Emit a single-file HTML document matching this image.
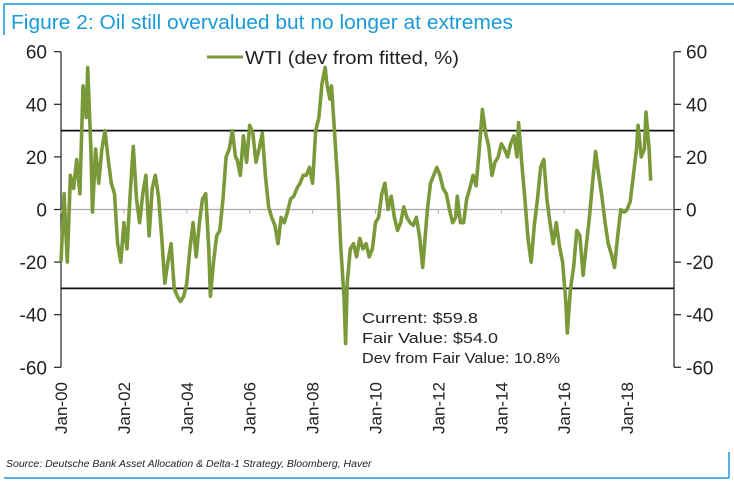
<!DOCTYPE html>
<html><head><meta charset="utf-8"><style>
body{margin:0;background:#fff;}
svg{display:block;font-family:"Liberation Sans",sans-serif;}
</style></head><body>
<svg width="734" height="485" viewBox="0 0 734 485">
<g id="frame">
<line x1="4" y1="4" x2="734" y2="4" stroke="#1a9ad6" stroke-width="1.5"/>
<line x1="4" y1="4" x2="4" y2="35" stroke="#1a9ad6" stroke-width="1.5"/>
<line x1="4" y1="478" x2="729" y2="478" stroke="#1a9ad6" stroke-width="1.5"/>
<line x1="729" y1="452" x2="729" y2="478" stroke="#1a9ad6" stroke-width="1.5"/>
</g>
<text x="11" y="29" font-size="20.5" fill="#1a9ad6" textLength="502" lengthAdjust="spacingAndGlyphs">Figure 2: Oil still overvalued but no longer at extremes</text>
<text x="6" y="467" font-size="10.5" font-style="italic" fill="#222">Source: Deutsche Bank Asset Allocation &amp; Delta-1 Strategy, Bloomberg, Haver</text>
<g id="axes"></g>
<g id="series"></g>
<g>
<line x1="207" y1="57" x2="243" y2="57" stroke="#7a9a3a" stroke-width="3"/>
<text x="245" y="64" font-size="18" fill="#222" textLength="214" lengthAdjust="spacingAndGlyphs">WTI (dev from fitted, %)</text>
</g>
<g font-size="15" fill="#222">
<text x="362" y="323" textLength="116" lengthAdjust="spacingAndGlyphs">Current: $59.8</text>
<text x="362" y="343" textLength="136" lengthAdjust="spacingAndGlyphs">Fair Value: $54.0</text>
<text x="362" y="363" textLength="198" lengthAdjust="spacingAndGlyphs">Dev from Fair Value: 10.8%</text>
</g>
</svg>
<script>
const dates=[2000.0,2000.1,2000.2,2000.3,2000.4,2000.5,2000.6,2000.7,2000.8,2000.85,2000.95,2001.0,2001.1,2001.2,2001.3,2001.4,2001.5,2001.6,2001.7,2001.8,2001.9,2002.0,2002.1,2002.2,2002.3,2002.4,2002.5,2002.6,2002.7,2002.8,2002.9,2003.0,2003.1,2003.2,2003.3,2003.4,2003.5,2003.6,2003.7,2003.8,2003.9,2004.0,2004.1,2004.2,2004.3,2004.4,2004.5,2004.6,2004.7,2004.75,2004.85,2004.95,2005.05,2005.15,2005.25,2005.35,2005.45,2005.55,2005.6,2005.7,2005.8,2005.9,2006.0,2006.1,2006.2,2006.3,2006.4,2006.5,2006.6,2006.7,2006.8,2006.9,2007.0,2007.1,2007.2,2007.3,2007.4,2007.5,2007.6,2007.7,2007.8,2007.9,2008.0,2008.1,2008.2,2008.3,2008.4,2008.45,2008.55,2008.6,2008.7,2008.8,2008.9,2009.0,2009.05,2009.1,2009.2,2009.3,2009.4,2009.5,2009.6,2009.7,2009.8,2009.9,2010.0,2010.1,2010.2,2010.3,2010.4,2010.5,2010.6,2010.7,2010.8,2010.9,2011.0,2011.1,2011.2,2011.3,2011.4,2011.5,2011.55,2011.65,2011.75,2011.85,2011.95,2012.05,2012.15,2012.25,2012.35,2012.45,2012.55,2012.6,2012.7,2012.8,2012.9,2013.0,2013.1,2013.2,2013.3,2013.4,2013.5,2013.6,2013.7,2013.8,2013.9,2014.0,2014.1,2014.2,2014.3,2014.4,2014.5,2014.55,2014.65,2014.75,2014.85,2014.95,2015.05,2015.15,2015.25,2015.35,2015.45,2015.55,2015.65,2015.75,2015.85,2015.95,2016.05,2016.1,2016.2,2016.3,2016.4,2016.5,2016.6,2016.7,2016.8,2016.9,2017.0,2017.1,2017.2,2017.3,2017.4,2017.5,2017.6,2017.7,2017.8,2017.9,2018.0,2018.1,2018.2,2018.3,2018.35,2018.45,2018.55,2018.6,2018.7,2018.75];
const values=[-20,6,-20,13,8,19,6,47,35,54,23,-1,23,10,23,30,19,10,6,-13,-20,-5,-15,6,24,4,-5,6,13,-10,8,13,5,-10,-28,-20,-13,-30,-33,-35,-33,-28,-15,-5,-18,-5,4,6,-15,-33,-20,-10,-8,4,20,23,30,20,19,13,28,18,32,29,18,23,29,13,1,-3,-6,-13,-3,-5,-1,4,5,8,10,13,13,16,10,30,35,48,54,48,42,47,29,10,-15,-34,-51,-28,-15,-13,-18,-11,-15,-13,-18,-15,-5,-3,6,10,0,5,-3,-8,-5,1,-3,-5,-6,-3,-10,-22,-15,0,10,13,16,13,8,6,0,-5,-3,5,-5,-5,4,8,13,9,23,38,29,24,13,18,20,25,23,20,25,28,20,33,18,4,-11,-20,-6,4,16,19,4,-5,-13,-5,-14,-20,-35,-47,-30,-22,-8,-10,-25,-14,-3,10,22,13,5,-5,-13,-17,-22,-10,0,-1,0,3,13,23,32,20,23,37,23,11];
const yTicks=[60,40,20,0,-20,-40,-60];
const xTickYears=[2000,2002,2004,2006,2008,2010,2012,2014,2016,2018];
const xTickLabels=["Jan-00","Jan-02","Jan-04","Jan-06","Jan-08","Jan-10","Jan-12","Jan-14","Jan-16","Jan-18"];
const bands=[30,-30];
const NS='http://www.w3.org/2000/svg';
const L=61,R=674;
function xs(t){return 61+(t-2000)*31.45;}
function ys(v){return 209.5-v*2.63;}
function mk(tag,attrs,parent){const e=document.createElementNS(NS,tag);for(const k in attrs)e.setAttribute(k,attrs[k]);parent.appendChild(e);return e;}
const ax=document.getElementById('axes');
let a=mk('line',{x1:L,y1:ys(60),x2:L,y2:ys(-60),stroke:'#222','stroke-width':1.2},ax);


a=mk('line',{x1:R,y1:ys(60),x2:R,y2:ys(-60),stroke:'#222','stroke-width':1.2},ax);


a=mk('line',{x1:L,y1:ys(0),x2:R,y2:ys(0),stroke:'#aaa','stroke-width':1.2},ax);


bands.forEach(b=>{const l=mk('line',{x1:L,y1:ys(b),x2:R,y2:ys(b),stroke:'#111','stroke-width':1.8},ax);

});
yTicks.forEach(v=>{
 mk('line',{x1:L-7,y1:ys(v),x2:L,y2:ys(v),stroke:'#222','stroke-width':1.2},ax);
 mk('line',{x1:R,y1:ys(v),x2:R+7,y2:ys(v),stroke:'#222','stroke-width':1.2},ax);
 const t1=mk('text',{x:L-14,y:ys(v)+7,'text-anchor':'end','font-size':19,fill:'#222'},ax);t1.textContent=v;
 
 
 const t2=mk('text',{x:R+12,y:ys(v)+7,'font-size':19,fill:'#222'},ax);t2.textContent=v;
 
 
});
xTickYears.forEach((yr,i)=>{
 const x=xs(yr);
 mk('line',{x1:x,y1:ys(0),x2:x,y2:ys(0)+4,stroke:'#aaa','stroke-width':1},ax);
 const t=mk('text',{x:0,y:0,'text-anchor':'end','font-size':17,fill:'#222',transform:`translate(${x+6},382) rotate(-90)`},ax);
 t.textContent=xTickLabels[i];
 
 
});
const pts=dates.map((d,i)=>xs(d).toFixed(1)+','+ys(values[i]).toFixed(1)).join(' ');
const pl=mk('polyline',{points:pts,fill:'none',stroke:'#7a9a3a','stroke-width':3.6,'stroke-linejoin':'round'},document.getElementById('series'));


</script>
</body></html>
